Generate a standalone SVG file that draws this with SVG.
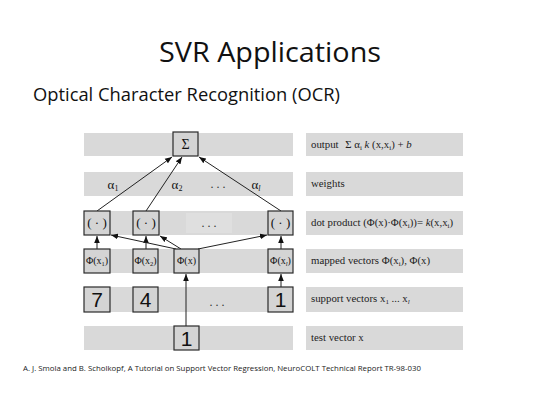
<svg xmlns="http://www.w3.org/2000/svg" width="540" height="405" viewBox="0 0 540 405">
<defs>
<marker id="ah" viewBox="0 0 10 10" refX="10" refY="5" markerWidth="7" markerHeight="7" orient="auto-start-reverse" markerUnits="userSpaceOnUse">
<path d="M0,1 L10,5 L0,9 z" fill="#111"/>
</marker>
<style>
.band{fill:#d9d9d9}
.box{fill:#d4d4d4;stroke:#2a2a2a;stroke-width:1.2}
.lbl{font-family:"Liberation Serif","Times New Roman",serif;font-size:10.8px;fill:#222}
.bx{font-family:"Liberation Serif","Times New Roman",serif;fill:#111;text-anchor:middle}
.dig{font-family:"Liberation Sans",Arial,sans-serif;font-size:21px;fill:#111;text-anchor:middle}
.conn{stroke:#222;stroke-width:1;fill:none;marker-end:url(#ah)}
.dots{font-family:"Liberation Serif",serif;font-size:12px;fill:#333;text-anchor:middle}
</style>
</defs>
<rect width="540" height="405" fill="#fff"/>
<text x="270" y="62" font-family="'Open Sans','Liberation Sans',sans-serif" font-size="28" text-anchor="middle" fill="#111" textLength="222" lengthAdjust="spacingAndGlyphs">SVR Applications</text>
<text x="33" y="101" font-family="'Open Sans','Liberation Sans',sans-serif" font-size="19" fill="#111" textLength="307" lengthAdjust="spacingAndGlyphs">Optical Character Recognition (OCR)</text>

<g id="bands">
<rect class="band" x="84" y="133" width="209" height="23"/>
<rect class="band" x="84" y="172" width="209" height="24"/>
<rect class="band" x="84" y="211" width="209" height="24"/>
<rect class="band" x="84" y="249" width="209" height="24"/>
<rect class="band" x="84" y="287" width="209" height="25"/>
<rect class="band" x="84" y="326" width="209" height="24"/>
<rect x="186" y="213" width="46" height="20" fill="#dfdfdf"/>
<rect class="band" x="306" y="133" width="157" height="23"/>
<rect class="band" x="306" y="172" width="157" height="24"/>
<rect class="band" x="306" y="211" width="157" height="24"/>
<rect class="band" x="306" y="249" width="157" height="24"/>
<rect class="band" x="306" y="287" width="157" height="25"/>
<rect class="band" x="306" y="326" width="157" height="24"/>
</g>

<g id="labels">
<text class="lbl" x="311" y="148">output <tspan dx="4">Σ α</tspan><tspan font-size="7" dy="2">i</tspan><tspan dy="-2" font-style="italic"> k</tspan> (x,x<tspan font-size="7" dy="2">i</tspan><tspan dy="-2">) + </tspan><tspan font-style="italic">b</tspan></text>
<text class="lbl" x="311" y="187">weights</text>
<text class="lbl" x="311" y="226">dot product (Φ(x)·Φ(x<tspan font-size="7" dy="2">i</tspan><tspan dy="-2">))= </tspan><tspan font-style="italic">k</tspan>(x,x<tspan font-size="7" dy="2">i</tspan><tspan dy="-2">)</tspan></text>
<text class="lbl" x="311" y="264">mapped vectors Φ(x<tspan font-size="7" dy="2">i</tspan><tspan dy="-2">), Φ(x)</tspan></text>
<text class="lbl" x="311" y="302">support vectors x<tspan font-size="7" dy="2">1</tspan><tspan dy="-2"> ... x</tspan><tspan font-size="7" dy="2" font-style="italic">l</tspan></text>
<text class="lbl" x="311" y="341">test vector x</text>
</g>

<g id="connectors">
<line class="conn" x1="97" y1="211" x2="172" y2="157"/>
<line class="conn" x1="146" y1="211" x2="182" y2="157"/>
<line class="conn" x1="281" y1="211" x2="199" y2="157"/>
<line class="conn" x1="97" y1="249" x2="97" y2="236"/>
<line class="conn" x1="146" y1="249" x2="146" y2="236"/>
<line class="conn" x1="281" y1="249" x2="281" y2="236"/>
<line class="conn" x1="176" y1="249" x2="111" y2="235"/>
<line class="conn" x1="181" y1="249" x2="160" y2="236"/>
<line class="conn" x1="198" y1="249" x2="267" y2="235"/>
<line class="conn" x1="281" y1="300" x2="281" y2="274"/>
<line class="conn" x1="186" y1="340" x2="186" y2="274"/>
</g>

<g id="weights">
<text class="bx" x="113" y="189" font-size="13">α<tspan font-size="8" dy="2">1</tspan></text>
<text class="bx" x="177" y="189" font-size="13">α<tspan font-size="8" dy="2">2</tspan></text>
<text class="dots" x="218" y="188">. . .</text>
<text class="bx" x="256" y="189" font-size="13">α<tspan font-size="8" dy="2" font-style="italic">l</tspan></text>
</g>

<g id="sum"><rect class="box" x="173" y="132" width="25" height="24"/><text class="bx" x="185.5" y="149" font-size="14">Σ</text></g>

<g id="dot1"><rect class="box" x="84" y="211" width="26" height="24"/><text class="bx" x="97" y="227" font-size="13">( · )</text></g>
<g id="dot2"><rect class="box" x="133" y="211" width="26" height="24"/><text class="bx" x="146" y="227" font-size="13">( · )</text></g>
<text class="dots" x="209" y="227">. . .</text>
<g id="dotl"><rect class="box" x="268" y="211" width="25" height="24"/><text class="bx" x="280.5" y="227" font-size="13">( · )</text></g>

<g id="phi1"><rect class="box" x="84" y="249" width="26" height="24"/><text class="bx" x="97" y="264" font-size="10">Φ(x<tspan font-size="6.5" dy="2">1</tspan><tspan dy="-2">)</tspan></text></g>
<g id="phi2"><rect class="box" x="133" y="249" width="25" height="24"/><text class="bx" x="145.5" y="264" font-size="10">Φ(x<tspan font-size="6.5" dy="2">2</tspan><tspan dy="-2">)</tspan></text></g>
<g id="phix"><rect class="box" x="174" y="249" width="25" height="24"/><text class="bx" x="186.5" y="264" font-size="10">Φ(x)</text></g>
<g id="phil"><rect class="box" x="268" y="249" width="25" height="24"/><text class="bx" x="280.5" y="264" font-size="10">Φ(x<tspan font-size="6.5" dy="2" font-style="italic">l</tspan><tspan dy="-2">)</tspan></text></g>

<g id="sv1"><rect class="box" x="84" y="287" width="26" height="25"/><text class="dig" x="97" y="307">7</text></g>
<g id="sv2"><rect class="box" x="133" y="287" width="25" height="25"/><text class="dig" x="145.5" y="307">4</text></g>
<text class="dots" x="217" y="306">. . .</text>
<g id="svl"><rect class="box" x="268" y="287" width="25" height="25"/><text class="dig" x="280.5" y="307">1</text></g>

<g id="test"><rect class="box" x="174" y="326" width="25" height="24"/><text class="dig" x="186.5" y="346">1</text></g>

<text x="23" y="371" font-family="'Open Sans','Liberation Sans',sans-serif" font-size="8" fill="#222" textLength="398" lengthAdjust="spacingAndGlyphs">A. J. Smola and B. Scholkopf, A Tutorial on Support Vector Regression, NeuroCOLT Technical Report TR-98-030</text>
</svg>
